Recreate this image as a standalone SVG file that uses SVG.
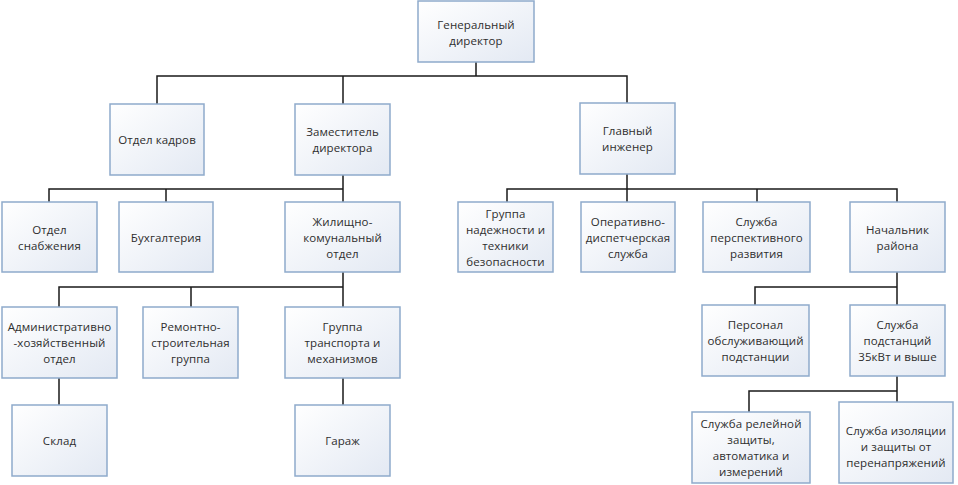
<svg xmlns="http://www.w3.org/2000/svg" width="958" height="485" viewBox="0 0 958 485">
<defs>
<linearGradient id="bg" x1="0" y1="0" x2="1" y2="1">
<stop offset="0" stop-color="#ffffff"/>
<stop offset="1" stop-color="#e3e9f3"/>
</linearGradient>
</defs>
<style>
rect{fill:url(#bg);stroke:#8eaacb;stroke-width:1.5}
text{font-family:"Open Sans","Liberation Sans",sans-serif;font-size:11.5px;letter-spacing:0.1px;fill:#2e2e2e;text-anchor:middle;dominant-baseline:central}
#connectors path{fill:none;stroke:#1a1a1a;stroke-width:1.5}
</style>
<rect x="0" y="0" width="958" height="485" style="fill:#fff;stroke:none"/>
<g id="connectors">
<path d="M476 62V76M157 104V76H627V103M343 76V104"/>
<path d="M343 175V189M49 202V189H343V202M166 189V202"/>
<path d="M627 174V189M507 202V189H897V202M627 189V202M757 189V202"/>
<path d="M343 272V287M59 307V287H343V307M191 287V307"/>
<path d="M59 378V405M343 378V405"/>
<path d="M897 272V287M755 305V287H897V305"/>
<path d="M897 376V402M749 412V391H897"/>
</g>
<g id="gen"><rect x="418" y="1" width="116" height="61"/><text x="476" y="24">Генеральный</text><text x="476" y="40">директор</text></g>
<g id="kadr"><rect x="110" y="104" width="94" height="71"/><text x="157" y="139.5">Отдел кадров</text></g>
<g id="zam"><rect x="295" y="104" width="95" height="71"/><text x="342.5" y="131.5">Заместитель</text><text x="342.5" y="147.5">директора</text></g>
<g id="glav"><rect x="580" y="103" width="95" height="71"/><text x="627.5" y="130.5">Главный</text><text x="627.5" y="146.5">инженер</text></g>
<g id="snab"><rect x="2" y="202" width="95" height="70"/><text x="49.5" y="229">Отдел</text><text x="49.5" y="245">снабжения</text></g>
<g id="buh"><rect x="119" y="202" width="94" height="70"/><text x="166" y="237">Бухгалтерия</text></g>
<g id="zhil"><rect x="285" y="202" width="115" height="70"/><text x="342.5" y="221">Жилищно-</text><text x="342.5" y="237">комунальный</text><text x="342.5" y="253">отдел</text></g>
<g id="nadezh"><rect x="458" y="202" width="95" height="70"/><text x="505.5" y="213">Группа</text><text x="505.5" y="229">надежности и</text><text x="505.5" y="245">техники</text><text x="505.5" y="261">безопасности</text></g>
<g id="oper"><rect x="581" y="202" width="94" height="70"/><text x="628" y="221">Оперативно-</text><text x="628" y="237">диспетчерская</text><text x="628" y="253">служба</text></g>
<g id="persp"><rect x="703" y="202" width="107" height="70"/><text x="756.5" y="221">Служба</text><text x="756.5" y="237">перспективного</text><text x="756.5" y="253">развития</text></g>
<g id="nach"><rect x="850" y="202" width="95" height="70"/><text x="897.5" y="229">Начальник</text><text x="897.5" y="245">района</text></g>
<g id="admin"><rect x="2" y="307" width="115" height="71"/><text x="59.5" y="326.5">Административно</text><text x="59.5" y="342.5">-хозяйственный</text><text x="59.5" y="358.5">отдел</text></g>
<g id="remont"><rect x="143" y="307" width="95" height="71"/><text x="190.5" y="326.5">Ремонтно-</text><text x="190.5" y="342.5">строительная</text><text x="190.5" y="358.5">группа</text></g>
<g id="trans"><rect x="285" y="307" width="115" height="71"/><text x="342.5" y="326.5">Группа</text><text x="342.5" y="342.5">транспорта и</text><text x="342.5" y="358.5">механизмов</text></g>
<g id="sklad"><rect x="12" y="405" width="95" height="71"/><text x="59.5" y="440.5">Склад</text></g>
<g id="garazh"><rect x="295" y="405" width="95" height="71"/><text x="342.5" y="440.5">Гараж</text></g>
<g id="pers"><rect x="702" y="305" width="107" height="71"/><text x="755.5" y="324.5">Персонал</text><text x="755.5" y="340.5">обслуживающий</text><text x="755.5" y="356.5">подстанции</text></g>
<g id="sluzh35"><rect x="850" y="305" width="95" height="71"/><text x="897.5" y="324.5">Служба</text><text x="897.5" y="340.5">подстанций</text><text x="897.5" y="356.5">35кВт и выше</text></g>
<g id="rele"><rect x="692" y="412" width="118" height="71"/><text x="751" y="423.5">Служба релейной</text><text x="751" y="439.5">защиты,</text><text x="751" y="455.5">автоматика и</text><text x="751" y="471.5">измерений</text></g>
<g id="izol"><rect x="839" y="402" width="114" height="81"/><text x="896" y="430">Служба изоляции</text><text x="896" y="446">и защиты от</text><text x="896" y="462">перенапряжений</text></g>
</svg>
